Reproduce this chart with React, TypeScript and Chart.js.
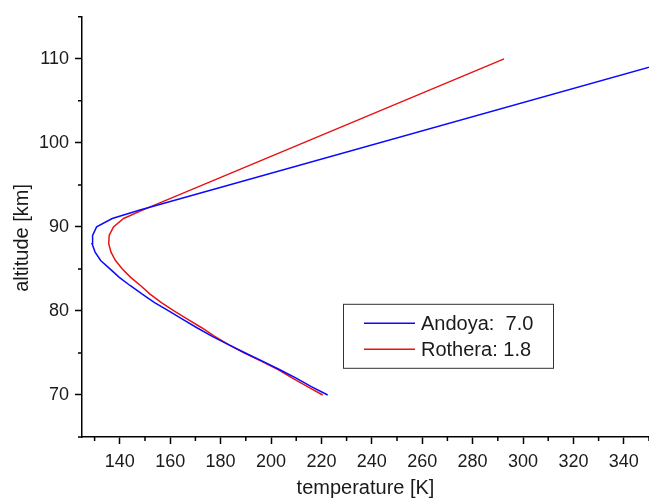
import React, { useEffect, useRef } from "react";
import { Chart, registerables } from "chart.js";

Chart.register(...registerables);

const altitudes = [70, 71, 72, 73, 74, 75, 76, 77, 78, 79, 80, 81, 82, 83, 84, 85, 86, 87, 88, 89, 90, 91, 92, 110];
const andoyaTemp = [222.5, 216, 210, 203.5, 196.8, 189.8, 183.1, 176.5, 170.6, 165, 159.4, 153.8, 148.9, 144.2, 139.8, 136.1, 132.4, 130.2, 129, 129.2, 130.8, 137, 148, 362];
const rotheraTemp = [220.5, 214.5, 208.5, 203, 196.3, 189.5, 183.2, 177.5, 172.5, 167, 161.5, 156.5, 152, 148.3, 144.3, 141, 138.3, 136.5, 135.6, 135.8, 137.5, 141.5, 149, 292.5];
const seriesLabels = ["Andoya:  7.0", "Rothera: 1.8"];
const xTicks = [140, 160, 180, 200, 220, 240, 260, 280, 300, 320, 340];
const yTicks = [70, 80, 90, 100, 110];
const xMinorTicks = [130, 150, 170, 190, 210, 230, 250, 270, 290, 310, 330, 350];
const yMinorTicks = [65, 75, 85, 95, 105, 115];
const xTitle = "temperature [K]";
const yTitle = "altitude [km]";

const FONT = "'Liberation Sans', Arial, sans-serif";
const TEXT = "#1a1a1a";

const minorTickPlugin = {
  id: "minorTicks",
  afterDraw(chart: any) {
    const ctx = chart.ctx;
    const xs = chart.scales.x;
    const ys = chart.scales.y;
    const area = chart.chartArea;
    ctx.save();
    ctx.strokeStyle = "#000";
    ctx.lineWidth = 1.5;
    ctx.beginPath();
    xMinorTicks.forEach((v) => {
      const px = xs.getPixelForValue(v);
      if (px < area.left - 0.5 || px > area.right + 0.5) return;
      ctx.moveTo(px, area.bottom);
      ctx.lineTo(px, area.bottom + 4);
    });
    yMinorTicks.forEach((v) => {
      const py = ys.getPixelForValue(v);
      if (py < area.top - 0.5 || py > area.bottom + 0.5) return;
      ctx.moveTo(area.left, py);
      ctx.lineTo(area.left - 4, py);
    });
    ctx.stroke();
    // y axis title, placed slightly below the chart-area centre as in the reference
    ctx.fillStyle = TEXT;
    ctx.font = `20px ${FONT}`;
    ctx.textAlign = "center";
    ctx.textBaseline = "middle";
    ctx.translate(22, (area.top + area.bottom) / 2 + 11);
    ctx.rotate(-Math.PI / 2);
    ctx.fillText(yTitle, 0, 0);
    ctx.restore();
  },
};

const boxLegendPlugin = {
  id: "boxLegend",
  afterDraw(chart: any) {
    const ctx = chart.ctx;
    const area = chart.chartArea;
    const left = area.left + 261;
    const top = area.top + 287;
    const w = 210;
    const h = 64;
    ctx.save();
    ctx.fillStyle = "#fff";
    ctx.fillRect(left, top, w, h);
    ctx.strokeStyle = "#333";
    ctx.lineWidth = 1;
    ctx.strokeRect(left + 0.5, top + 0.5, w, h);
    ctx.font = `20px ${FONT}`;
    ctx.textBaseline = "middle";
    ctx.textAlign = "left";
    chart.data.datasets.forEach((ds: any, i: number) => {
      const cy = top + 19.5 + i * 26;
      ctx.strokeStyle = ds.borderColor;
      ctx.lineWidth = 1.5;
      ctx.beginPath();
      ctx.moveTo(left + 21, cy);
      ctx.lineTo(left + 72, cy);
      ctx.stroke();
      ctx.fillStyle = TEXT;
      ctx.fillText(ds.label, left + 78, cy + 1);
    });
    ctx.restore();
  },
};

export default function App() {
  const ref = useRef<HTMLCanvasElement>(null);
  useEffect(() => {
    document.body.style.margin = "0";
    const canvas = ref.current!;
    const chart = new Chart(canvas, {
      type: "line",
      data: {
        datasets: [
          {
            label: seriesLabels[0],
            data: altitudes.map((a, i) => ({ x: andoyaTemp[i], y: a })),
            borderColor: "rgb(10,10,255)",
            borderWidth: 1.5,
            pointRadius: 0,
            fill: false,
            tension: 0,
          },
          {
            label: seriesLabels[1],
            data: altitudes.map((a, i) => ({ x: rotheraTemp[i], y: a })),
            borderColor: "rgb(232,20,20)",
            borderWidth: 1.5,
            pointRadius: 0,
            fill: false,
            tension: 0,
          },
        ],
      },
      options: {
        animation: false,
        responsive: false,
        maintainAspectRatio: false,
        layout: { padding: { top: 15, right: 0, left: 0, bottom: 0 } },
        plugins: { legend: { display: false }, tooltip: { enabled: false } },
        scales: {
          x: {
            type: "linear",
            min: 125,
            max: 350,
            afterBuildTicks: (s: any) => {
              s.ticks = xTicks.map((v) => ({ value: v }));
            },
            afterFit: (s: any) => {
              s.height = 63;
            },
            ticks: { color: TEXT, font: { family: FONT, size: 18 }, padding: 7, maxRotation: 0, autoSkip: false },
            grid: { drawOnChartArea: false, drawTicks: true, tickLength: 7, tickColor: "#000", tickWidth: 1.5 },
            border: { display: true, color: "#000", width: 1.5 },
            title: { display: true, text: xTitle, color: TEXT, font: { family: FONT, size: 20 }, padding: { top: 0, bottom: 0 } },
          },
          y: {
            type: "linear",
            min: 65,
            max: 115,
            afterBuildTicks: (s: any) => {
              s.ticks = yTicks.map((v) => ({ value: v }));
            },
            afterFit: (s: any) => {
              s.width = 82;
            },
            ticks: { color: TEXT, font: { family: FONT, size: 18 }, padding: 6, autoSkip: false },
            grid: { drawOnChartArea: false, drawTicks: true, tickLength: 7, tickColor: "#000", tickWidth: 1.5 },
            border: { display: true, color: "#000", width: 1.5 },
            title: { display: false },
          },
        },
      },
      plugins: [minorTickPlugin, boxLegendPlugin],
    });
    return () => chart.destroy();
  }, []);
  return <canvas ref={ref} width={649} height={500} style={{ display: "block" }} />;
}
